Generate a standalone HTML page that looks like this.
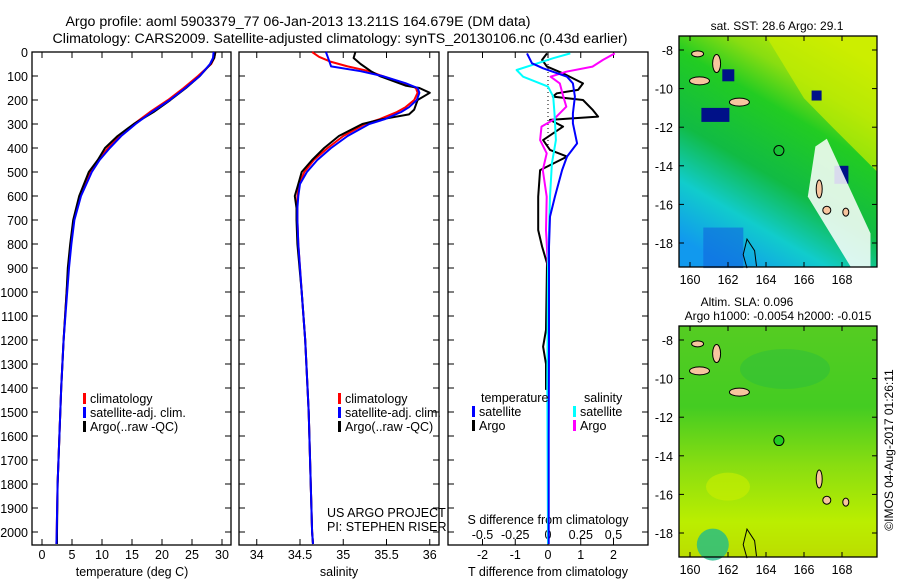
<!DOCTYPE html>
<html><head><meta charset="utf-8"><style>
body{margin:0;background:#fff;}
svg{display:block;font-family:"Liberation Sans",sans-serif;}
</style></head><body>
<svg id="c" width="900" height="580" xmlns="http://www.w3.org/2000/svg">
<text x="298" y="26" font-size="14.2" text-anchor="middle">Argo profile: aoml 5903379_77 06-Jan-2013 13.211S 164.679E (DM data)</text>
<text x="340" y="43" font-size="14.2" text-anchor="middle">Climatology: CARS2009. Satellite-adjusted climatology: synTS_20130106.nc (0.43d earlier)</text>
<g id="maps"></g>
<g id="plots"></g>
</svg>
<script>
// ---------- data ----------
const tDepth=[0,25,50,100,150,200,250,300,350,400,450,500,600,700,800,900,1000,1200,1400,1600,1800,2000,2050];
const tClim=[28.9,28.7,28.2,26.0,23.6,21.0,18.0,15.3,13.0,11.0,9.3,8.0,6.3,5.3,4.8,4.4,4.1,3.6,3.2,2.9,2.6,2.45,2.4];
const tSat=[28.6,28.5,28.0,26.3,23.9,21.3,18.3,15.6,13.2,11.3,9.6,8.3,6.5,5.4,4.9,4.5,4.2,3.6,3.2,2.9,2.6,2.45,2.4];
const tArgo=[28.9,28.7,28.1,26.3,24.0,21.4,18.6,15.3,12.6,10.5,9.3,7.8,6.2,5.2,4.7,4.3,4.1,3.6,3.2,2.9,2.6,2.5,2.5];
const sDepth=[0,20,40,60,80,100,130,150,170,200,230,250,280,300,350,400,450,500,550,600,650,700,800,1000,1200,1500,2000,2050];
const sClim=[34.64,34.72,34.85,35.05,35.3,35.45,35.7,35.84,35.86,35.82,35.72,35.62,35.42,35.25,35.0,34.82,34.66,34.55,34.49,34.47,34.47,34.47,34.48,34.52,34.56,34.6,34.64,34.65];
const sSat=[34.8,34.82,34.84,34.86,35.2,35.45,35.72,35.86,35.88,35.85,35.76,35.67,35.48,35.3,35.05,34.86,34.7,34.58,34.5,34.48,34.47,34.47,34.48,34.52,34.56,34.6,34.64,34.65];
const sArgoDepth=[0,25,50,80,100,120,140,150,170,200,240,260,280,300,350,400,450,500,550,600,650,700,800,1000,1200,1500,2000,2050];
const sArgo=[35.14,35.12,35.2,35.32,35.42,35.57,35.72,35.88,36.0,35.86,35.82,35.76,35.45,35.22,34.95,34.78,34.64,34.52,34.48,34.44,34.46,34.46,34.47,34.52,34.56,34.6,34.64,34.65];
const dtSatDepth=[6,47,68,103,131,186,256,297,381,436,492,603,686,811,1200,1600,2050];
const dtSat=[-0.64,-0.49,-0.15,0.58,0.76,0.82,0.76,0.76,0.89,0.58,0.43,0.21,0.06,0.03,0.03,0.02,0.02];
const dtArgoDepth=[6,33,61,89,131,158,172,186,200,242,269,283,311,367,408,436,492,603,742,811,880,1158,1228,1300,1408];
const dtArgo=[-0.03,-0.18,-0.03,0.46,1.07,0.92,0.27,0.15,1.07,1.37,1.53,0.06,0.46,-0.15,0.06,0.58,-0.24,-0.3,-0.3,-0.18,-0.03,-0.06,-0.15,-0.06,-0.06];
const dsSatDepth=[6,26,47,75,103,144,186,256,367,464,603,900,1400,2050];
const dsSat=[0.17,0.04,-0.08,-0.24,-0.19,0,0.04,0.05,0.06,0.03,0.015,0,-0.005,0];
const dsArgoDepth=[6,33,61,82,103,131,172,228,283,311,367,422,492,603,742,900,1300,2050];
const dsArgo=[0.51,0.42,0.34,0.14,0.02,0.09,0.11,0.14,0.04,-0.05,-0.06,-0.01,-0.04,-0.01,-0.015,0,0.005,0];
const depthTicks=[0,100,200,300,400,500,600,700,800,900,1000,1100,1200,1300,1400,1500,1600,1700,1800,1900,2000];
const tTicks=[0,5,10,15,20,25,30];
const sTicks=[34,34.5,35,35.5,36];
const dtTicks=[-2,-1,0,1,2];
const dsTicks=[-0.5,-0.25,0,0.25,0.5];
const latTicks=[-8,-10,-12,-14,-16,-18];
const lonTicks=[160,162,164,166,168];

const NS="http://www.w3.org/2000/svg";
function el(tag,attrs,parent,txt){const e=document.createElementNS(NS,tag);for(const k in attrs)e.setAttribute(k,attrs[k]);if(txt!==undefined)e.textContent=txt;(parent||document.getElementById('plots')).appendChild(e);return e;}
const Y0=52,PY=0.24,YB=545;
const yD=d=>Y0+d*PY;
const panels=[{x0:32,x1:231},{x0:239,x1:439},{x0:448,x1:648}];
const xT=v=>42+v*6;
const xS=v=>300+(v-34.5)*86.5;
const xDT=v=>548+v*32.75;
const xDS=v=>548+v*131;
const P=document.getElementById('plots');

panels.forEach((p,i)=>{
  const r=el('rect',{x:p.x0,y:Y0,width:p.x1-p.x0,height:YB-Y0,fill:'none',stroke:'#000','stroke-width':1.3},P);
  
  
  depthTicks.forEach(d=>{
    el('line',{x1:p.x0,x2:p.x0+6,y1:yD(d),y2:yD(d),stroke:'#000'},P);
    el('line',{x1:p.x1-6,x2:p.x1,y1:yD(d),y2:yD(d),stroke:'#000'},P);
  });
});
depthTicks.forEach(d=>{
  const t=el('text',{x:28,y:yD(d)+5,'font-size':12.5,'text-anchor':'end'},P,String(d));
  
  
});
function xticks(arr,fx,lblY,top,fmt,name){
  arr.forEach(v=>{
    const x=fx(v);
    el('line',{x1:x,x2:x,y1:YB,y2:YB-6,stroke:'#000'},P);
    if(top)el('line',{x1:x,x2:x,y1:Y0,y2:Y0+6,stroke:'#000'},P);
    const t=el('text',{x:x,y:lblY,'font-size':12.5,'text-anchor':'middle'},P,fmt?fmt(v):String(v));
    
    
  });
}
xticks(tTicks,xT,559,true,null,'temperature-tick-label');
xticks(sTicks,xS,559,true,null,'salinity-tick-label');
xticks(dtTicks,xDT,559,true,null,'t-diff-tick-label');
dsTicks.forEach(v=>{const t=el('text',{x:xDS(v),y:539,'font-size':12.5,'text-anchor':'middle'},P,String(v).replace('0.','.').replace('-.','-0.').replace(/^\./,'0.'));
  });
function lbl(x,y,s,name,anchor){const t=el('text',{x:x,y:y,'font-size':12.5,'text-anchor':anchor||'middle'},P,s);return t;}
lbl(132,576,'temperature (deg C)','temperature-axis-title');
lbl(339,576,'salinity','salinity-axis-title');
lbl(548,576,'T difference from climatology','t-diff-axis-title');
lbl(548,524,'S difference from climatology','s-diff-axis-title');
lbl(327,517,'US ARGO PROJECT','project-label','start');
lbl(327,531,'PI: STEPHEN RISER','pi-label','start');

function line(depths,vals,fx,color,name,w){
  const pts=depths.map((d,i)=>fx(vals[i]).toFixed(1)+','+yD(d).toFixed(1)).join(' ');
  const e=el('polyline',{points:pts,fill:'none',stroke:color,'stroke-width':w||2,'stroke-linejoin':'round'},P);
  
  
}
el('line',{x1:548,x2:548,y1:Y0,y2:yD(400),stroke:'#000','stroke-dasharray':'1,3'},P);
line(tDepth,tClim,xT,'#f00','temp-climatology-line');
line(tDepth,tArgo,xT,'#000','temp-argo-line');
line(tDepth,tSat,xT,'#00f','temp-satellite-line');
line(sDepth,sClim,xS,'#f00','sal-climatology-line');
line(sArgoDepth,sArgo,xS,'#000','sal-argo-line');
line(sDepth,sSat,xS,'#00f','sal-satellite-line');
line(dtArgoDepth,dtArgo,xDT,'#000','tdiff-argo-line');
line(dsArgoDepth,dsArgo,xDS,'#f0f','sdiff-argo-line');
line(dsSatDepth,dsSat,xDS,'#0ff','sdiff-satellite-line');
line(dtSatDepth,dtSat,xDT,'#00f','tdiff-satellite-line');

function legend(x,y,items,name){
  items.forEach((it,i)=>{
    const b=el('rect',{x:x,y:y+i*14-10,width:3,height:11,fill:it[1]},P);
    
    lbl(x+7,y+i*14,it[0],name+'-entry','start');
  });
}
legend(83,403,[['climatology','#f00'],['satellite-adj. clim.','#00f'],['Argo(..raw -QC)','#000']],'legend-panel1');
legend(338,403,[['climatology','#f00'],['satellite-adj. clim.','#00f'],['Argo(..raw -QC)','#000']],'legend-panel2');
lbl(481,402,'temperature','legend-temperature-header','start');
lbl(584,402,'salinity','legend-salinity-header','start');
legend(472,416,[['satellite','#00f'],['Argo','#000']],'legend-temp');
legend(573,416,[['satellite','#0ff'],['Argo','#f0f']],'legend-sal');

// ---------- maps ----------
const M=document.getElementById('maps');
function map(y0,y1,titleLines,kind){
  const x0=679,x1=877;
  const g=el('g',{},M);
  
  const id='g'+kind;
  const defs=el('defs',{},g);
  const lg=kind==='sst'?el('linearGradient',{id:id,x1:0.75,y1:0,x2:0.25,y2:1},defs):el('linearGradient',{id:id,x1:0,y1:0,x2:0,y2:1},defs);
  const stops=kind==='sst'?[[0,'#ccee00'],[0.2,'#88dd11'],[0.35,'#22cc22'],[0.6,'#11bb44'],[0.8,'#11cccc'],[1,'#1199ee']]
                         :[[0,'#55cc22'],[0.35,'#44cc22'],[0.6,'#88dd11'],[0.85,'#bbee00'],[1,'#bbdd00']];
  stops.forEach(s=>el('stop',{offset:s[0],'stop-color':s[1]},lg));
  el('rect',{x:x0,y:y0,width:x1-x0,height:y1-y0,fill:'url(#'+id+')'},g);
  const lx=v=>690+(v-160)*19, ly=v=>y0+14+(-8-v)*19.3;
  if(kind==='sst'){
    el('polygon',{points:`${lx(164)},${y0} ${x1},${y0} ${x1},${ly(-14.3)} ${lx(167.5)},${ly(-12)} ${lx(166)},${ly(-10.5)}`,fill:'#ccee00',opacity:0.7},g);
    el('rect',{x:lx(160.7),y:ly(-17.2),width:40,height:ly(-19.3)-ly(-17.2),fill:'#1166dd',opacity:0.6},g);
    el('rect',{x:lx(160.6),y:ly(-11),width:28,height:14,fill:'#001188'},g);
    el('rect',{x:lx(161.7),y:ly(-9),width:12,height:12,fill:'#001188'},g);
    el('rect',{x:lx(167.6),y:ly(-14),width:14,height:18,fill:'#001188'},g);
    el('rect',{x:lx(166.4),y:ly(-10.1),width:10,height:10,fill:'#001188'},g);
    el('polygon',{points:`${lx(166.6)},${ly(-13)} ${lx(167.2)},${ly(-12.6)} ${lx(169.5)},${ly(-17.5)} ${lx(169.5)},${ly(-19.3)} ${lx(168.5)},${ly(-19.3)} ${lx(166.2)},${ly(-15.6)}`,fill:'#fff',opacity:0.85},g);
  } else {
    el('circle',{cx:lx(161.2),cy:ly(-18.6),r:16,fill:'#22bb88',opacity:0.8},g);
    el('ellipse',{cx:lx(162),cy:ly(-15.6),rx:22,ry:14,fill:'#ccee00',opacity:0.6},g);
    el('ellipse',{cx:lx(165),cy:ly(-9.5),rx:45,ry:20,fill:'#22bb44',opacity:0.4},g);
  }
  [[160.5,-9.6,10,4],[161.4,-8.7,4,9],[162.6,-10.7,10,4],[166.8,-15.2,3,9],[167.2,-16.3,4,4],[168.2,-16.4,3,4],[160.4,-8.2,6,3]].forEach(s=>{
    const e=el('ellipse',{cx:lx(s[0]),cy:ly(s[1]),rx:s[2],ry:s[3],fill:'#f7c59f',stroke:'#000','stroke-width':1},g);
    
  });
  el('polyline',{points:`${lx(163)},${ly(-19.3)} ${lx(162.8)},${ly(-18.6)} ${lx(163)},${ly(-17.8)} ${lx(163.4)},${ly(-18.4)} ${lx(163.5)},${ly(-19.2)}`,fill:'none',stroke:'#000'},g);
  const c=el('circle',{cx:lx(164.68),cy:ly(-13.21),r:5,fill:kind==='sst'?'none':'#22cc22',stroke:'#000'},g);
  
  el('rect',{x:x0,y:y0,width:x1-x0,height:y1-y0,fill:'none',stroke:'#000','stroke-width':1.3},g);
  latTicks.forEach(v=>{el('line',{x1:x0,x2:x0+5,y1:ly(v),y2:ly(v),stroke:'#000'},g);el('line',{x1:x1-5,x2:x1,y1:ly(v),y2:ly(v),stroke:'#000'},g);
    const t=el('text',{x:x0-6,y:ly(v)+5,'font-size':12.5,'text-anchor':'end'},g,String(v));});
  lonTicks.forEach(v=>{el('line',{x1:lx(v),x2:lx(v),y1:y1,y2:y1-5,stroke:'#000'},g);el('line',{x1:lx(v),x2:lx(v),y1:y0,y2:y0+5,stroke:'#000'},g);
    const t=el('text',{x:lx(v),y:y1+17,'font-size':12.5,'text-anchor':'middle'},g,String(v));});
  titleLines.forEach((s,i)=>{const t=el('text',{x:titleLines.length>1?(i===0?747:778):777,y:y0-6-(titleLines.length-1-i)*14,'font-size':12,'text-anchor':'middle'},g,s);});
}
map(36,267,['sat. SST: 28.6 Argo: 29.1'],'sst');
map(326,557,['Altim. SLA: 0.096','Argo h1000: -0.0054 h2000: -0.015'],'sla');
const cr=el('text',{x:0,y:0,'font-size':12,'text-anchor':'middle',transform:'translate(893,450) rotate(-90)'},M,'©IMOS 04-Aug-2017 01:26:11');


</script>
</body></html>
